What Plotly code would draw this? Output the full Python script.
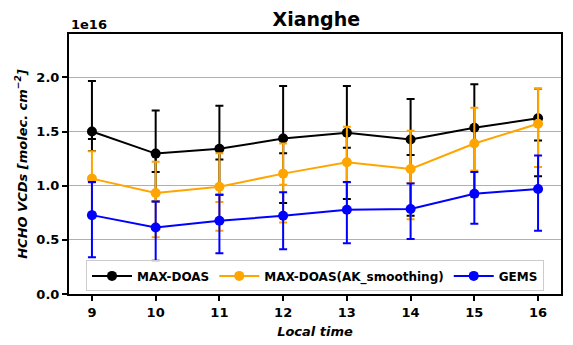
import plotly.graph_objects as go

# local hour, HCHO VCDs in units of 1e16 molec/cm2
hours = [9, 10, 11, 12, 13, 14, 15, 16]

maxdoas = [1.50, 1.296, 1.34, 1.435, 1.488, 1.426, 1.534, 1.623]
maxdoas_top = [1.966, 1.694, 1.738, 1.92, 1.92, 1.80, 1.935, 1.895]
maxdoas_low = [1.32, 0.855, 0.917, 0.84, 0.877, 0.722, 0.90, 1.086]
maxdoas_low2 = [1.43, 1.127, 1.241, 1.30, 1.349, 1.284, 1.39, 1.417]

ak = [1.065, 0.932, 0.99, 1.111, 1.216, 1.154, 1.389, 1.571]
ak_top = [1.318, 1.22, 1.30, 1.389, 1.543, 1.506, 1.719, 1.895]
ak_low = [0.73, 0.525, 0.583, 0.66, 0.78, 0.69, 0.90, 0.97]
ak_low2 = [1.03, 0.855, 0.849, 1.009, 1.03, 1.025, 1.14, 1.173]

gems = [0.728, 0.614, 0.676, 0.722, 0.778, 0.784, 0.926, 0.969]
gems_top = [1.034, 0.855, 0.917, 0.94, 1.034, 1.019, 1.127, 1.278]
gems_low = [0.34, 0.306, 0.377, 0.414, 0.469, 0.507, 0.648, 0.583]

series = [
    ('MAX-DOAS', 'black', maxdoas, maxdoas_top, maxdoas_low, maxdoas_low2),
    ('MAX-DOAS(AK_smoothing)', '#FFA500', ak, ak_top, ak_low, ak_low2),
    ('GEMS', '#0000FF', gems, gems_top, gems_low, None),
]

fig = go.Figure()
for name, col, y, top, low, low2 in series:
    if low2 is not None:
        # second set of error caps below the mean
        fig.add_trace(go.Scatter(
            x=hours, y=y, mode='markers', marker=dict(opacity=0, color=col),
            showlegend=False, hoverinfo='skip',
            error_y=dict(type='data', symmetric=False, array=[0] * len(y),
                         arrayminus=[a - b for a, b in zip(y, low2)],
                         color=col, thickness=2, width=4)))
    fig.add_trace(go.Scatter(
        x=hours, y=y, name=name, mode='lines+markers',
        line=dict(color=col, width=2), marker=dict(color=col, size=10),
        error_y=dict(type='data', symmetric=False,
                     array=[a - b for a, b in zip(top, y)],
                     arrayminus=[a - b for a, b in zip(y, low)],
                     color=col, thickness=2, width=4)))

fig.add_annotation(x=0, y=1, xref='paper', yref='paper', xanchor='left', yanchor='bottom',
                   text='<b>1e16</b>', showarrow=False, yshift=0,
                   font=dict(size=13, color='black'))

fig.update_layout(
    width=573, height=345,
    margin=dict(l=69, r=12, t=34, b=51),
    paper_bgcolor='white', plot_bgcolor='white',
    font=dict(family='DejaVu Sans', color='black'),
    title=dict(text='<b>Xianghe</b>', x=0.552, xanchor='center', y=0.945, yanchor='middle',
               font=dict(size=19, color='black')),
    legend=dict(orientation='h', x=0.5, xanchor='center', y=0.01, yanchor='bottom',
                bgcolor='rgba(255,255,255,0.8)', bordercolor='#cccccc', borderwidth=1,
                font=dict(size=12, color='black', weight='bold'), itemwidth=40),
    showlegend=True,
)
fig.update_xaxes(range=[8.64, 16.36], tickvals=hours, showgrid=False, automargin=False,
                 showline=True, linecolor='black', linewidth=2, mirror=True,
                 ticks='outside', ticklen=5, tickwidth=2, tickcolor='black',
                 tickfont=dict(size=13, weight='bold'),
                 title=dict(text='Local time', standoff=8,
                            font=dict(size=13, weight='bold', style='italic')),
                 zeroline=False)
fig.update_yaxes(range=[0, 2.4], tickvals=[0, 0.5, 1.0, 1.5, 2.0], tickformat='.1f',
                 showgrid=True, gridcolor='#b0b0b0', gridwidth=1, automargin=False,
                 showline=True, linecolor='black', linewidth=2, mirror=True,
                 ticks='outside', ticklen=5, tickwidth=2, tickcolor='black',
                 tickfont=dict(size=13, weight='bold'),
                 title=dict(text='HCHO VCDs [molec. cm<sup>\u22122</sup>]', standoff=6,
                            font=dict(size=13, weight='bold', style='italic')),
                 zeroline=False)

fig.write_html('out.html', config={'displayModeBar': False},
               post_script="document.body.style.margin='0';")
